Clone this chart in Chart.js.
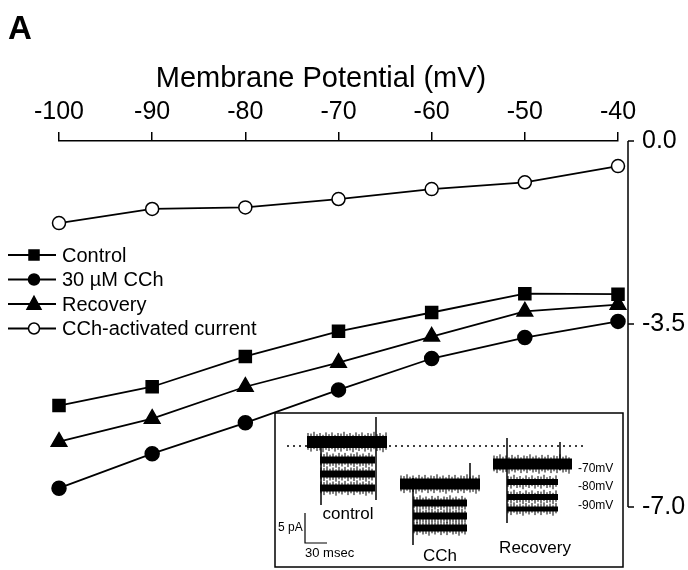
<!DOCTYPE html>
<html lang="en">
<head>
  <meta charset="UTF-8">
  <title>Membrane Potential - CCh</title>
  <style>
    body {
      margin: 0;
      padding: 0;
      background: #fff;
    }
    canvas {
      display: block;
    }
  </style>
  <script src="https://cdn.jsdelivr.net/npm/chart.js"></script>
</head>
<body>
  <canvas id="ivChart" width="688" height="570"></canvas>

  <script>
    // Data (current, in y-axis units)
    const voltages = [-100, -90, -80, -70, -60, -50, -40];
    const control = [-5.06, -4.70, -4.12, -3.64, -3.28, -2.92, -2.93];
    const cch = [-6.64, -5.98, -5.39, -4.76, -4.16, -3.76, -3.45];
    const recovery = [-5.75, -5.31, -4.70, -4.24, -3.74, -3.26, -3.13];
    const activated = [-1.57, -1.30, -1.27, -1.11, -0.92, -0.79, -0.48];
    const yTicks = [0, -3.5, -7];

    const FONT = '"Liberation Sans", Arial, sans-serif';

    function toPoints(arr) {
      return voltages.map((v, i) => ({ x: v, y: arr[i] }));
    }

    function drawMarker(ctx, style, x, y, r, filled) {
      ctx.beginPath();
      if (style === 'rect') {
        ctx.rect(x - r, y - r, r * 2, r * 2);
      } else if (style === 'triangle') {
        ctx.moveTo(x, y - r * 1.1);
        ctx.lineTo(x + r, y + r * 0.75);
        ctx.lineTo(x - r, y + r * 0.75);
        ctx.closePath();
      } else {
        ctx.arc(x, y, r, 0, Math.PI * 2);
      }
      ctx.fillStyle = filled ? '#000' : '#fff';
      ctx.fill();
      ctx.lineWidth = 1.5;
      ctx.strokeStyle = '#000';
      ctx.stroke();
    }

    // rough texture so the inset bands look like noisy recordings
    const jitter = [3, 6, 2, 5, 4, 7, 3, 5, 2, 6];

    // axis on the right, legend, labels and the inset
    const decor = {
      id: 'decor',
      afterDraw(chart) {
        const ctx = chart.ctx;
        const ys = chart.scales.y;
        ctx.save();

        // panel letter
        ctx.fillStyle = '#000';
        ctx.font = 'bold 33px ' + FONT;
        ctx.textAlign = 'left';
        ctx.textBaseline = 'alphabetic';
        ctx.fillText('A', 8, 39);

        // axis title
        ctx.font = '29px ' + FONT;
        ctx.textAlign = 'center';
        ctx.fillText('Membrane Potential (mV)', 321, 87);

        // right y axis, set off from the plot
        const ax = 628;
        ctx.strokeStyle = '#000';
        ctx.lineWidth = 1.5;
        ctx.beginPath();
        ctx.moveTo(ax, ys.getPixelForValue(0));
        ctx.lineTo(ax, ys.getPixelForValue(-7));
        yTicks.forEach(t => {
          const py = ys.getPixelForValue(t);
          ctx.moveTo(ax, py);
          ctx.lineTo(ax + 6, py);
        });
        ctx.stroke();

        // legend
        ctx.font = '20px ' + FONT;
        ctx.textAlign = 'left';
        ctx.textBaseline = 'middle';
        chart.data.datasets.forEach((ds, i) => {
          const ly = 255 + i * 24.5;
          ctx.beginPath();
          ctx.moveTo(8, ly);
          ctx.lineTo(56, ly);
          ctx.lineWidth = 1.8;
          ctx.strokeStyle = '#000';
          ctx.stroke();
          const r = ds.pointStyle === 'triangle' ? 7 : (ds.pointStyle === 'rect' ? 5 : 5.5);
          drawMarker(ctx, ds.pointStyle, 34, ly, r, ds.pointBackgroundColor === '#000');
          ctx.fillStyle = '#000';
          ctx.fillText(ds.label, 62, ly + 1);
        });

        // inset with example recordings
        ctx.fillStyle = '#fff';
        ctx.fillRect(275, 413, 348, 154);
        ctx.strokeStyle = '#000';
        ctx.lineWidth = 1.5;
        ctx.strokeRect(275, 413, 348, 154);

        ctx.setLineDash([2, 4]);
        ctx.beginPath();
        ctx.moveTo(287, 446);
        ctx.lineTo(583, 446);
        ctx.stroke();
        ctx.setLineDash([]);

        ctx.fillStyle = '#000';
        function band(x1, x2, yc, h) {
          ctx.fillRect(x1, yc - h / 2, x2 - x1, h);
          ctx.beginPath();
          let k = 0;
          for (let x = x1 + 1; x < x2; x += 3) {
            const d = jitter[k % jitter.length];
            const up = jitter[(k + 3) % jitter.length];
            ctx.moveTo(x, yc - h / 2 - up * 0.6);
            ctx.lineTo(x, yc + h / 2 + d * 0.6);
            k++;
          }
          ctx.lineWidth = 1;
          ctx.stroke();
        }
        function spike(x, y1, y2) {
          ctx.beginPath();
          ctx.moveTo(x, y1);
          ctx.lineTo(x, y2);
          ctx.lineWidth = 1.5;
          ctx.stroke();
        }
        // control
        band(307, 387, 442, 12);
        band(320, 375, 460, 7);
        band(320, 375, 474, 7);
        band(320, 375, 488, 7);
        spike(321, 440, 505);
        spike(376, 417, 500);
        // CCh
        band(400, 480, 484, 11);
        band(413, 467, 503, 7);
        band(413, 467, 516, 7);
        band(413, 467, 528, 7);
        spike(413, 478, 545);
        spike(470, 463, 488);
        // recovery
        band(493, 572, 464, 11);
        band(507, 558, 482, 6);
        band(507, 558, 497, 6);
        band(507, 558, 509, 5);
        spike(507, 438, 523);
        spike(560, 442, 470);

        // scale bar
        ctx.beginPath();
        ctx.moveTo(305, 513);
        ctx.lineTo(305, 543);
        ctx.lineTo(327, 543);
        ctx.lineWidth = 1.2;
        ctx.stroke();

        ctx.textBaseline = 'alphabetic';
        ctx.font = '12px ' + FONT;
        ctx.textAlign = 'left';
        ctx.fillText('5 pA', 278, 531);
        ctx.font = '13px ' + FONT;
        ctx.fillText('30 msec', 305, 557);

        ctx.font = '17px ' + FONT;
        ctx.textAlign = 'center';
        ctx.fillText('control', 348, 519);
        ctx.fillText('CCh', 440, 561);
        ctx.fillText('Recovery', 535, 553);

        ctx.font = '12px ' + FONT;
        ctx.textAlign = 'left';
        ctx.fillText('-70mV', 578, 472);
        ctx.fillText('-80mV', 578, 490);
        ctx.fillText('-90mV', 578, 509);

        ctx.restore();
      }
    };

    function lineSet(label, data, style, radius, fill) {
      return {
        label: label,
        data: toPoints(data),
        borderColor: '#000',
        borderWidth: 1.8,
        pointStyle: style,
        pointRadius: radius,
        pointBackgroundColor: fill,
        pointBorderColor: '#000',
        pointBorderWidth: 1.5,
        tension: 0,
        clip: false
      };
    }

    const ctx = document.getElementById('ivChart').getContext('2d');
    new Chart(ctx, {
      type: 'line',
      data: {
        datasets: [
          lineSet('Control', control, 'rect', 8.5, '#000'),
          lineSet('30 \u00b5M CCh', cch, 'circle', 7, '#000'),
          lineSet('Recovery', recovery, 'triangle', 9, '#000'),
          lineSet('CCh-activated current', activated, 'circle', 6.5, '#fff')
        ]
      },
      options: {
        responsive: false,
        animation: false,
        layout: { padding: { left: 59, top: 0, right: 0, bottom: 63 } },
        plugins: {
          legend: { display: false },
          tooltip: { enabled: false }
        },
        scales: {
          x: {
            type: 'linear',
            position: 'top',
            min: -100,
            max: -40,
            ticks: {
              stepSize: 10,
              color: '#000',
              padding: 5,
              font: { family: FONT, size: 25 }
            },
            grid: {
              drawOnChartArea: false,
              color: '#000',
              lineWidth: 1.5,
              tickLength: 9
            },
            border: { display: true, color: '#000', width: 1.5 },
            afterFit(scale) { scale.height = 141; }
          },
          y: {
            type: 'linear',
            position: 'right',
            min: -7,
            max: 0,
            afterBuildTicks(scale) {
              scale.ticks = yTicks.map(v => ({ value: v }));
            },
            ticks: {
              color: '#000',
              padding: 24,
              font: { family: FONT, size: 25 },
              callback: v => v.toFixed(1)
            },
            grid: { display: false, drawTicks: false },
            border: { display: false },
            afterFit(scale) { scale.width = 70; }
          }
        }
      },
      plugins: [decor]
    });
  </script>
</body>
</html>
